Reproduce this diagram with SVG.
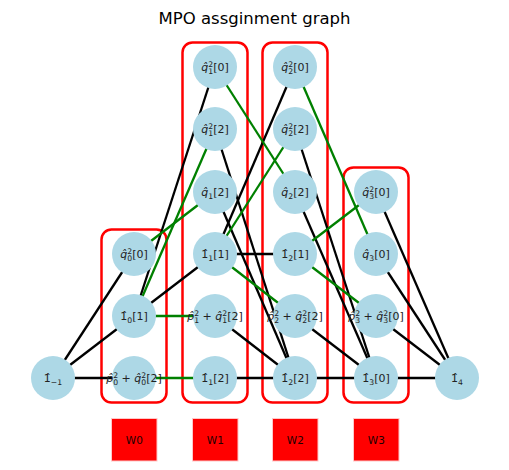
<svg xmlns="http://www.w3.org/2000/svg" width="509" height="470" viewBox="0 0 509 470">
<style>
text{font-family:"DejaVu Sans","Liberation Sans",sans-serif;fill:#222}
.title{font-size:16.5px;text-anchor:middle;fill:#000}
.e line{stroke-width:2.3;fill:none}
.k{stroke:#000}
.g{stroke:#008000}
.n circle{fill:#ADD8E6}
.n text{font-size:11px;text-anchor:middle}
.it{font-style:italic}
.s{font-size:7.7px}
.grp rect{fill:none;stroke:#ff0000;stroke-width:2.5}
.w rect{fill:#ff0000;stroke:#ffc8c8;stroke-width:1}
.w text{font-size:10.5px;text-anchor:middle;fill:#200}
</style>
<text class="title" x="254.5" y="24">MPO assginment graph</text>
<g id="groups" class="grp">
<rect x="101.5" y="229.5" width="65" height="173" rx="10"/>
<rect x="182.5" y="42.5" width="65" height="360" rx="10"/>
<rect x="262.5" y="42.5" width="65" height="360" rx="10"/>
<rect x="343.5" y="167.5" width="65" height="235" rx="10"/>
</g>
<g id="edges" class="e">
<line class="k" x1="53" y1="378" x2="134" y2="254"/>
<line class="k" x1="53" y1="378" x2="134" y2="316"/>
<line class="k" x1="53" y1="378" x2="134" y2="378"/>
<line class="k" x1="134" y1="316" x2="215" y2="67"/>
<line class="k" x1="134" y1="316" x2="215" y2="254"/>
<line class="k" x1="215" y1="129" x2="295" y2="378"/>
<line class="k" x1="215" y1="192" x2="295" y2="378"/>
<line class="k" x1="215" y1="254" x2="295" y2="67"/>
<line class="k" x1="215" y1="254" x2="295" y2="254"/>
<line class="k" x1="215" y1="316" x2="295" y2="378"/>
<line class="k" x1="215" y1="378" x2="295" y2="378"/>
<line class="k" x1="295" y1="129" x2="376" y2="378"/>
<line class="k" x1="295" y1="192" x2="376" y2="378"/>
<line class="k" x1="295" y1="316" x2="376" y2="378"/>
<line class="k" x1="295" y1="378" x2="376" y2="378"/>
<line class="k" x1="376" y1="192" x2="457" y2="378"/>
<line class="k" x1="376" y1="254" x2="457" y2="378"/>
<line class="k" x1="376" y1="316" x2="457" y2="378"/>
<line class="k" x1="376" y1="378" x2="457" y2="378"/>
<line class="g" x1="134" y1="254" x2="215" y2="192"/>
<line class="g" x1="134" y1="316" x2="215" y2="129"/>
<line class="g" x1="134" y1="316" x2="215" y2="316"/>
<line class="g" x1="134" y1="378" x2="215" y2="378"/>
<line class="g" x1="215" y1="67" x2="295" y2="192"/>
<line class="g" x1="215" y1="254" x2="295" y2="129"/>
<line class="g" x1="215" y1="254" x2="295" y2="316"/>
<line class="g" x1="295" y1="67" x2="376" y2="254"/>
<line class="g" x1="295" y1="254" x2="376" y2="192"/>
<line class="g" x1="295" y1="254" x2="376" y2="316"/>
</g>
<g id="n_m1" class="n"><circle cx="53" cy="378" r="22"/><text x="53" y="382">1̂<tspan class="s" dy="2.5">−1</tspan></text></g>
<g id="n_q0s0" class="n"><circle cx="134" cy="254" r="22"/><text x="134" y="258"><tspan class="it">q̂</tspan><tspan class="s" dy="-4.5">2</tspan><tspan class="s" dx="-4.9" dy="7">0</tspan><tspan dy="-2.5">[0]</tspan></text></g>
<g id="n_i0_1" class="n"><circle cx="134" cy="316" r="22"/><text x="134" y="320">1̂<tspan class="s" dy="2.5">0</tspan><tspan dy="-2.5">[1]</tspan></text></g>
<g id="n_pq0" class="n"><circle cx="134" cy="378" r="22"/><text x="134" y="382"><tspan class="it">p̂</tspan><tspan class="s" dy="-4.5">2</tspan><tspan class="s" dx="-4.9" dy="7">0</tspan><tspan dy="-2.5"> + </tspan><tspan class="it">q̂</tspan><tspan class="s" dy="-4.5">2</tspan><tspan class="s" dx="-4.9" dy="7">0</tspan><tspan dy="-2.5">[2]</tspan></text></g>
<g id="n_q1s0" class="n"><circle cx="215" cy="67" r="22"/><text x="215" y="71"><tspan class="it">q̂</tspan><tspan class="s" dy="-4.5">2</tspan><tspan class="s" dx="-4.9" dy="7">1</tspan><tspan dy="-2.5">[0]</tspan></text></g>
<g id="n_q1s2" class="n"><circle cx="215" cy="129" r="22"/><text x="215" y="133"><tspan class="it">q̂</tspan><tspan class="s" dy="-4.5">2</tspan><tspan class="s" dx="-4.9" dy="7">1</tspan><tspan dy="-2.5">[2]</tspan></text></g>
<g id="n_q1" class="n"><circle cx="215" cy="192" r="22"/><text x="215" y="196"><tspan class="it">q̂</tspan><tspan class="s" dy="2.5">1</tspan><tspan dy="-2.5">[2]</tspan></text></g>
<g id="n_i1_1" class="n"><circle cx="215" cy="254" r="22"/><text x="215" y="258">1̂<tspan class="s" dy="2.5">1</tspan><tspan dy="-2.5">[1]</tspan></text></g>
<g id="n_pq1" class="n"><circle cx="215" cy="316" r="22"/><text x="215" y="320"><tspan class="it">p̂</tspan><tspan class="s" dy="-4.5">2</tspan><tspan class="s" dx="-4.9" dy="7">1</tspan><tspan dy="-2.5"> + </tspan><tspan class="it">q̂</tspan><tspan class="s" dy="-4.5">2</tspan><tspan class="s" dx="-4.9" dy="7">1</tspan><tspan dy="-2.5">[2]</tspan></text></g>
<g id="n_i1_2" class="n"><circle cx="215" cy="378" r="22"/><text x="215" y="382">1̂<tspan class="s" dy="2.5">1</tspan><tspan dy="-2.5">[2]</tspan></text></g>
<g id="n_q2s0" class="n"><circle cx="295" cy="67" r="22"/><text x="295" y="71"><tspan class="it">q̂</tspan><tspan class="s" dy="-4.5">2</tspan><tspan class="s" dx="-4.9" dy="7">2</tspan><tspan dy="-2.5">[0]</tspan></text></g>
<g id="n_q2s2" class="n"><circle cx="295" cy="129" r="22"/><text x="295" y="133"><tspan class="it">q̂</tspan><tspan class="s" dy="-4.5">2</tspan><tspan class="s" dx="-4.9" dy="7">2</tspan><tspan dy="-2.5">[2]</tspan></text></g>
<g id="n_q2" class="n"><circle cx="295" cy="192" r="22"/><text x="295" y="196"><tspan class="it">q̂</tspan><tspan class="s" dy="2.5">2</tspan><tspan dy="-2.5">[2]</tspan></text></g>
<g id="n_i2_1" class="n"><circle cx="295" cy="254" r="22"/><text x="295" y="258">1̂<tspan class="s" dy="2.5">2</tspan><tspan dy="-2.5">[1]</tspan></text></g>
<g id="n_pq2" class="n"><circle cx="295" cy="316" r="22"/><text x="295" y="320"><tspan class="it">p̂</tspan><tspan class="s" dy="-4.5">2</tspan><tspan class="s" dx="-4.9" dy="7">2</tspan><tspan dy="-2.5"> + </tspan><tspan class="it">q̂</tspan><tspan class="s" dy="-4.5">2</tspan><tspan class="s" dx="-4.9" dy="7">2</tspan><tspan dy="-2.5">[2]</tspan></text></g>
<g id="n_i2_2" class="n"><circle cx="295" cy="378" r="22"/><text x="295" y="382">1̂<tspan class="s" dy="2.5">2</tspan><tspan dy="-2.5">[2]</tspan></text></g>
<g id="n_q3s0" class="n"><circle cx="376" cy="192" r="22"/><text x="376" y="196"><tspan class="it">q̂</tspan><tspan class="s" dy="-4.5">2</tspan><tspan class="s" dx="-4.9" dy="7">3</tspan><tspan dy="-2.5">[0]</tspan></text></g>
<g id="n_q3" class="n"><circle cx="376" cy="254" r="22"/><text x="376" y="258"><tspan class="it">q̂</tspan><tspan class="s" dy="2.5">3</tspan><tspan dy="-2.5">[0]</tspan></text></g>
<g id="n_pq3" class="n"><circle cx="376" cy="316" r="22"/><text x="376" y="320"><tspan class="it">p̂</tspan><tspan class="s" dy="-4.5">2</tspan><tspan class="s" dx="-4.9" dy="7">3</tspan><tspan dy="-2.5"> + </tspan><tspan class="it">q̂</tspan><tspan class="s" dy="-4.5">2</tspan><tspan class="s" dx="-4.9" dy="7">3</tspan><tspan dy="-2.5">[0]</tspan></text></g>
<g id="n_i3_0" class="n"><circle cx="376" cy="378" r="22"/><text x="376" y="382">1̂<tspan class="s" dy="2.5">3</tspan><tspan dy="-2.5">[0]</tspan></text></g>
<g id="n_i4" class="n"><circle cx="457" cy="378" r="22"/><text x="457" y="382">1̂<tspan class="s" dy="2.5">4</tspan></text></g>
<g id="w0" class="w"><rect x="111.5" y="418.5" width="45.5" height="42.5"/><text x="134.3" y="443.5">W0</text></g>
<g id="w1" class="w"><rect x="192.5" y="418.5" width="45.5" height="42.5"/><text x="215.3" y="443.5">W1</text></g>
<g id="w2" class="w"><rect x="272.5" y="418.5" width="45.5" height="42.5"/><text x="295.3" y="443.5">W2</text></g>
<g id="w3" class="w"><rect x="353.5" y="418.5" width="45.5" height="42.5"/><text x="376.3" y="443.5">W3</text></g>
</svg>
